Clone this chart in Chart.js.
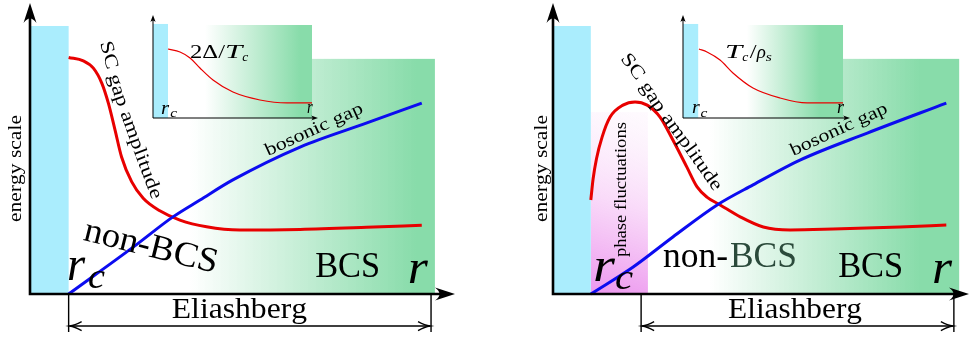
<!DOCTYPE html>
<html>
<head>
<meta charset="utf-8">
<script src="https://cdn.jsdelivr.net/npm/chart.js@4.4.1/dist/chart.umd.min.js"></script>
<style>
  body { margin: 0; background: #fff; width: 969px; height: 337px; overflow: hidden; }
  canvas { position: absolute; }
</style>
</head>
<body>
<canvas id="mainL" width="484" height="337" style="left:0;top:0"></canvas>
<canvas id="mainR" width="485" height="337" style="left:484px;top:0"></canvas>
<canvas id="insetL" width="190" height="125" style="left:140px;top:5px"></canvas>
<canvas id="insetR" width="190" height="125" style="left:670px;top:5px"></canvas>
<script>
// schematic units: x = r (r_c at 1), y = energy scale
const rc = 1;

// left panel: SC gap amplitude and bosonic gap
const gapLeftX = [1.0, 1.38, 1.64, 1.86, 2.03, 2.20, 2.37, 2.63, 2.93, 3.36, 3.88, 4.57, 5.43, 6.99, 8.71, 10.14];
const gapLeftY = [8.13, 8.01, 7.76, 7.24, 6.55, 5.64, 4.71, 3.86, 3.29, 2.86, 2.54, 2.31, 2.20, 2.22, 2.29, 2.36];
const bosonLeftX = [1.0, 2.67, 3.70, 4.40, 5.25, 6.99, 8.72, 10.14];
const bosonLeftY = [0.0, 1.61, 2.65, 3.23, 3.92, 5.05, 5.88, 6.56];

// right panel
const gapRightX = [1.0, 1.06, 1.15, 1.30, 1.51, 1.85, 2.17, 2.49, 2.83, 3.17, 3.54, 3.81, 4.07, 4.42, 4.95, 5.56, 6.27, 7.41, 9.18, 10.40];
const gapRightY = [3.23, 3.95, 4.65, 5.40, 6.08, 6.49, 6.60, 6.49, 6.08, 5.29, 4.36, 3.68, 3.33, 3.06, 2.65, 2.30, 2.20, 2.23, 2.30, 2.37];
const bosonRightX = [1.0, 2.12, 3.17, 4.34, 5.29, 6.53, 8.31, 10.40];
const bosonRightY = [0.0, 0.93, 1.96, 3.06, 3.75, 4.60, 5.53, 6.56];

// insets: 2Delta/Tc and Tc/rho_s
const insetLeftX = [1.0, 1.8, 2.47, 3.13, 4.0, 5.33, 7.13, 8.93, 10.6];
const insetLeftY = [6.70, 6.41, 5.83, 4.85, 3.69, 2.52, 1.75, 1.46, 1.46];
const insetRightX = [1.05, 1.58, 2.44, 3.29, 4.61, 6.39, 8.17, 10.54];
const insetRightY = [6.70, 6.41, 5.63, 4.37, 2.91, 1.94, 1.46, 1.46];

const RED = '#e80000', BLUE = '#0c0cf0', CYAN = '#aaedfd';
const SERIF = '"Liberation Serif", "DejaVu Serif", serif';

const pts = (xs, ys) => xs.map((x, i) => ({x, y: ys[i]}));

// draw text along a polyline, glyphs stretched so the text fills the path
function pathText(ctx, text, path, font, color) {
  ctx.save();
  ctx.font = font;
  ctx.fillStyle = color || '#000';
  ctx.textBaseline = 'alphabetic';
  ctx.textAlign = 'left';
  const chars = [...text];
  const w = chars.map(c => ctx.measureText(c).width);
  const natural = w.reduce((a, b) => a + b, 0);
  const segs = [];
  let total = 0;
  for (let i = 1; i < path.length; i++) {
    const dx = path[i].x - path[i - 1].x, dy = path[i].y - path[i - 1].y;
    const d = Math.hypot(dx, dy);
    segs.push({p: path[i - 1], dx, dy, d, s0: total});
    total += d;
  }
  const k = total / natural;
  const at = s => {
    let g = segs[segs.length - 1];
    for (const q of segs) if (s <= q.s0 + q.d) { g = q; break; }
    const t = (s - g.s0) / g.d;
    return {x: g.p.x + g.dx * t, y: g.p.y + g.dy * t};
  };
  let s = 0;
  chars.forEach((c, i) => {
    const p1 = at(s), p2 = at(s + w[i] * k);
    ctx.save();
    ctx.translate(p1.x, p1.y);
    ctx.rotate(Math.atan2(p2.y - p1.y, p2.x - p1.x));
    ctx.scale(k, 1);
    ctx.fillText(c, 0, 0);
    ctx.restore();
    s += w[i] * k;
  });
  ctx.restore();
}

function arrowHead(ctx, x, y, ang, len, half) {
  ctx.save();
  ctx.translate(x, y);
  ctx.rotate(ang);
  ctx.beginPath();
  ctx.moveTo(0, 0);
  ctx.lineTo(-len, -half);
  ctx.quadraticCurveTo(-len * 0.55, 0, -len, half);
  ctx.closePath();
  ctx.fill();
  ctx.restore();
}

function openHead(ctx, x, y, ang) {
  ctx.save();
  ctx.translate(x, y);
  ctx.rotate(ang);
  ctx.beginPath();
  ctx.moveTo(-12, -4.5);
  ctx.quadraticCurveTo(-5, -0.8, 0, 0);
  ctx.quadraticCurveTo(-5, 0.8, -12, 4.5);
  ctx.stroke();
  ctx.restore();
}

function panelPlugin(p) {
  return {
    id: 'panel',
    beforeDatasetsDraw(chart) {
      const {ctx, scales: {x, y}, chartArea} = chart;
      const X = v => x.getPixelForValue(v), Y = v => y.getPixelForValue(v);
      ctx.save();
      if (p.inset) {
        ctx.fillStyle = '#fff';
        ctx.fillRect(X(0), chartArea.top, X(p.greenRight) - X(0), Y(0) - chartArea.top);
      }
      const g = ctx.createLinearGradient(X(p.fade[0]), 0, X(p.fade[1]), 0);
      g.addColorStop(0, 'rgba(136,220,170,0)');
      g.addColorStop(1, 'rgb(136,220,170)');
      ctx.fillStyle = g;
      ctx.fillRect(X(rc), Y(p.greenTop), X(p.greenRight) - X(rc), Y(0) - Y(p.greenTop));
      if (p.pink) {
        const pg = ctx.createLinearGradient(X(rc), Y(0), X(p.pink[0]), Y(p.pink[1]));
        pg.addColorStop(0, 'rgba(236,150,238,1)');
        pg.addColorStop(0.5, 'rgba(248,212,248,0.85)');
        pg.addColorStop(1, 'rgba(252,240,252,0.3)');
        ctx.fillStyle = pg;
        ctx.fillRect(X(rc), Y(p.pink[1]), X(p.pink[0]) - X(rc), Y(0) - Y(p.pink[1]));
      }
      ctx.fillStyle = CYAN;
      ctx.fillRect(X(0), Y(p.cyanTop), X(rc) - X(0), Y(0) - Y(p.cyanTop));
      ctx.restore();
    },
    afterDraw(chart) {
      const {ctx, scales: {x, y}, chartArea: a} = chart;
      const X = v => x.getPixelForValue(v), Y = v => y.getPixelForValue(v);
      ctx.save();
      ctx.strokeStyle = '#000';
      ctx.fillStyle = '#000';
      const lw = p.inset ? 1 : 2.6;
      const hl = p.inset ? 7 : 20, hw = p.inset ? 2.6 : 6.5;
      ctx.lineWidth = lw;
      ctx.beginPath();
      ctx.moveTo(a.left, a.top + hl * 0.6);
      ctx.lineTo(a.left, a.bottom);
      ctx.lineTo(a.right - hl * 0.6, a.bottom);
      ctx.stroke();
      arrowHead(ctx, a.left, a.top, -Math.PI / 2, hl, hw);
      arrowHead(ctx, a.right, a.bottom, 0, hl, hw);

      if (p.eliash) {
        const [e0, e1] = p.eliash;
        ctx.lineWidth = 1.4;
        ctx.beginPath();
        ctx.moveTo(X(e0), Y(0)); ctx.lineTo(X(e0), Y(-1.31));
        ctx.moveTo(X(e1), Y(0)); ctx.lineTo(X(e1), Y(-1.31));
        ctx.moveTo(X(e0) + 1, Y(-1.1)); ctx.lineTo(X(e1) - 1, Y(-1.1));
        ctx.stroke();
        openHead(ctx, X(e0) + 1, Y(-1.1), Math.PI);
        openHead(ctx, X(e1) - 1, Y(-1.1), 0);
      }
      p.labels.forEach(l => {
        const path = l.at.map(([u, v]) => ({x: X(u), y: Y(v)}));
        pathText(ctx, l.text, path, l.font, l.color);
      });
      ctx.restore();
    }
  };
}

const f = (size, italic) => (italic ? 'italic ' : '') + size + 'px ' + SERIF;

const leftPanel = {
  cyanTop: 9.21, greenTop: 8.08, fade: [4.14, 10.0], greenRight: 10.48, eliash: [rc, 10.38],
  labels: [
    {text: 'energy scale', at: [[-0.23, 2.47], [-0.23, 6.15]], font: f(19)},
    {text: 'SC gap amplitude', at: [[1.81, 8.63], [2.15, 6.91], [2.38, 6.05], [2.69, 4.88], [3.16, 3.23]], font: f(19)},
    {text: 'bosonic gap', at: [[6.16, 4.74], [8.65, 6.25]], font: f(18)},
    {text: 'non-BCS', at: [[1.35, 1.86], [4.79, 0.72]], font: f(35)},
    {text: 'BCS', at: [[7.38, 0.58], [9.06, 0.58]], font: f(35)},
    {text: 'r', at: [[0.96, 0.48], [1.43, 0.48]], font: f(48, true)},
    {text: 'c', at: [[1.5, 0.21], [1.94, 0.21]], font: f(36, true)},
    {text: 'r', at: [[9.78, 0.38], [10.30, 0.38]], font: f(48, true)},
    {text: 'Eliashberg', at: [[3.67, -0.82], [7.17, -0.82]], font: f(30)}
  ]
};

const rightPanel = {
  cyanTop: 9.21, greenTop: 8.08, fade: [4.15, 9.7], greenRight: 10.74, pink: [2.51, 6.25], eliash: [2.33, 10.60],
  labels: [
    {text: 'energy scale', at: [[-0.16, 2.47], [-0.16, 6.15]], font: f(19)},
    {text: 'SC gap amplitude', at: [[1.77, 8.08], [2.14, 7.46], [2.64, 6.43], [3.52, 4.88], [4.26, 3.51]], font: f(19)},
    {text: 'phase fluctuations', at: [[1.93, 1.27], [1.93, 5.91]], font: f(17)},
    {text: 'bosonic gap', at: [[6.35, 4.74], [8.88, 6.25]], font: f(18)},
    {text: 'non-', at: [[2.91, 0.93], [4.63, 0.93]], font: f(36)},
    {text: 'BCS', at: [[4.68, 0.93], [6.45, 0.93]], font: f(36), color: '#2b4a3b'},
    {text: 'BCS', at: [[7.54, 0.58], [9.26, 0.58]], font: f(35)},
    {text: 'r', at: [[1.06, 0.45], [1.64, 0.45]], font: f(48, true)},
    {text: 'c', at: [[1.64, 0.17], [2.12, 0.17]], font: f(36, true)},
    {text: 'r', at: [[10.02, 0.38], [10.55, 0.38]], font: f(48, true)},
    {text: 'Eliashberg', at: [[4.63, -0.82], [8.17, -0.82]], font: f(30)}
  ]
};

const insetLeftPanel = {
  inset: true, cyanTop: 9.13, greenTop: 9.03, fade: [3.47, 9.8], greenRight: 10.6,
  labels: [
    {text: '2Δ/', at: [[2.47, 5.87], [4.8, 5.87]], font: f(18)},
    {text: 'T', at: [[4.8, 5.87], [5.95, 5.87]], font: f(18, true)},
    {text: 'c', at: [[5.95, 5.5], [6.35, 5.5]], font: f(13, true)},
    {text: 'r', at: [[0.53, 0.39], [1.07, 0.39]], font: f(18, true)},
    {text: 'c', at: [[1.15, 0.1], [1.6, 0.1]], font: f(13, true)},
    {text: 'r', at: [[10.27, 0.49], [10.65, 0.49]], font: f(18, true)}
  ]
};

const insetRightPanel = {
  inset: true, cyanTop: 9.13, greenTop: 9.03, fade: [4.2, 9.0], greenRight: 10.54,
  labels: [
    {text: 'T', at: [[2.77, 5.87], [3.9, 5.87]], font: f(18, true)},
    {text: 'c', at: [[3.9, 5.5], [4.3, 5.5]], font: f(13, true)},
    {text: '/', at: [[4.4, 5.87], [4.85, 5.87]], font: f(18)},
    {text: 'ρ', at: [[4.85, 5.87], [5.45, 5.87]], font: f(18, true)},
    {text: 's', at: [[5.45, 5.5], [5.85, 5.5]], font: f(13, true)},
    {text: 'r', at: [[0.59, 0.49], [1.1, 0.49]], font: f(18, true)},
    {text: 'c', at: [[1.15, 0.1], [1.6, 0.1]], font: f(13, true)},
    {text: 'r', at: [[10.14, 0.49], [10.6, 0.49]], font: f(18, true)}
  ]
};

function makeChart(id, padding, series, panel) {
  return new Chart(document.getElementById(id), {
    type: 'line',
    data: {
      datasets: series.map(s => ({
        data: s.data,
        borderColor: s.color,
        borderWidth: s.width,
        pointRadius: 0,
        cubicInterpolationMode: 'monotone',
        clip: false,
        order: s.order
      }))
    },
    options: {
      responsive: false,
      animation: false,
      events: [],
      layout: {padding, autoPadding: false},
      scales: {
        x: {type: 'linear', min: 0, max: 11, display: false},
        y: {type: 'linear', min: 0, max: 10, display: false}
      },
      plugins: {legend: {display: false}, tooltip: {enabled: false}}
    },
    plugins: [panelPlugin(panel)]
  });
}

function drawAll() {
  makeChart('mainL', {left: 30, right: 29, top: 3, bottom: 43}, [
    {data: pts(bosonLeftX, bosonLeftY), color: BLUE, width: 3, order: 0},
    {data: pts(gapLeftX, gapLeftY), color: RED, width: 3, order: 1}
  ], leftPanel);

  makeChart('mainR', {left: 69, right: 0, top: 3, bottom: 43}, [
    {data: pts(bosonRightX, bosonRightY), color: BLUE, width: 3, order: 0},
    {data: pts(gapRightX, gapRightY), color: RED, width: 3, order: 1}
  ], rightPanel);

  makeChart('insetL', {left: 13, right: 12, top: 10, bottom: 12}, [
    {data: pts(insetLeftX, insetLeftY), color: RED, width: 1.2, order: 0}
  ], insetLeftPanel);

  makeChart('insetR', {left: 13, right: 10, top: 10, bottom: 12}, [
    {data: pts(insetRightX, insetRightY), color: RED, width: 1.2, order: 0}
  ], insetRightPanel);
}

Promise.all([
  document.fonts.load('30px "Liberation Serif"'),
  document.fonts.load('italic 30px "Liberation Serif"')
]).catch(() => null).then(drawAll);
</script>
</body>
</html>
